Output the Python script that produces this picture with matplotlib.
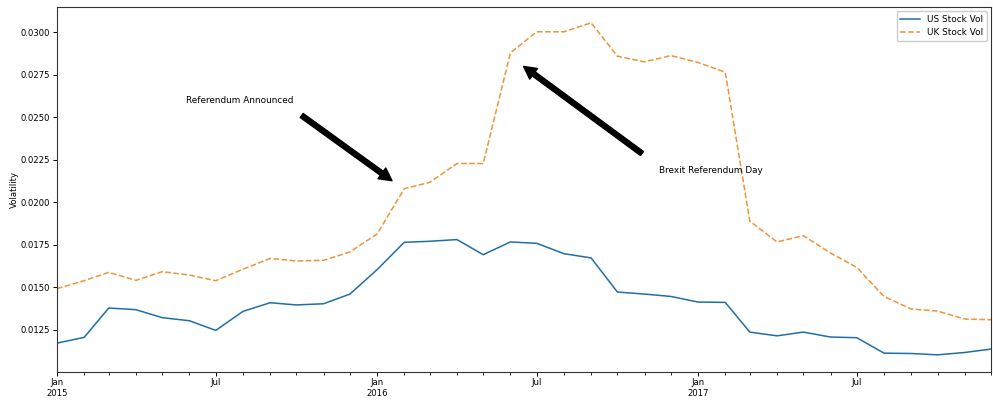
import matplotlib
matplotlib.use("Agg")
import matplotlib.pyplot as plt
import matplotlib.dates as mdates
import pandas as pd

# Monthly stock volatility, Jan 2015 - Dec 2017
months = pd.date_range("2015-01-01", "2017-12-01", freq="MS")

us_vol = [0.01170, 0.01204, 0.01377, 0.01367, 0.01320, 0.01302,
          0.01245, 0.01357, 0.01408, 0.01395, 0.01402, 0.01459,
          0.01603, 0.01764, 0.01770, 0.01780, 0.01691, 0.01766,
          0.01758, 0.01697, 0.01672, 0.01471, 0.01459, 0.01445,
          0.01412, 0.01410, 0.01235, 0.01213, 0.01235, 0.01206,
          0.01202, 0.01111, 0.01109, 0.01101, 0.01115, 0.01135]

uk_vol = [0.01491, 0.01538, 0.01587, 0.01540, 0.01591, 0.01571,
          0.01538, 0.01605, 0.01669, 0.01654, 0.01658, 0.01707,
          0.01813, 0.02080, 0.02117, 0.02228, 0.02228, 0.02880,
          0.03004, 0.03004, 0.03057, 0.02860, 0.02827, 0.02864,
          0.02823, 0.02766, 0.01888, 0.01766, 0.01803, 0.01701,
          0.01616, 0.01445, 0.01371, 0.01359, 0.01312, 0.01308]

series_labels = ["US Stock Vol", "UK Stock Vol"]

fs = 6.4
tick_fs = 6.1
plt.rcParams["font.family"] = ["DejaVu Sans"]
plt.rcParams["font.size"] = fs

fig = plt.figure(figsize=(9.93, 4.05), dpi=100)
ax = fig.add_axes([57 / 993, 1 - 372 / 405, (991 - 57) / 993, (372 - 7) / 405])

ax.plot(months, us_vol, color="#1f6fa8", lw=1.1, label=series_labels[0])
ax.plot(months, uk_vol, color="#f0923a", lw=1.1, ls="--", label=series_labels[1])

ax.set_xlim(months[0], months[-1])
ax.set_ylim(0.0100, 0.0315)
ax.set_yticks([0.0125, 0.0150, 0.0175, 0.0200, 0.0225, 0.0250, 0.0275, 0.0300])
ax.yaxis.set_major_formatter(matplotlib.ticker.FormatStrFormatter("%.4f"))
ax.set_ylabel("Volatility", fontsize=fs - 0.3)
ax.yaxis.set_label_coords(-0.041, 0.5)


def fmt_date(x, pos=None):
    d = mdates.num2date(x)
    if d.month == 1:
        return f"Jan\n{d.year}"
    return d.strftime("%b")


ax.xaxis.set_major_locator(mdates.MonthLocator(bymonth=[1, 7]))
ax.xaxis.set_major_formatter(matplotlib.ticker.FuncFormatter(fmt_date))
ax.xaxis.set_minor_locator(mdates.MonthLocator())
ax.tick_params(axis="both", which="major", length=3, width=0.7, pad=2, labelsize=tick_fs)
ax.tick_params(axis="x", which="major", pad=1.5)
ax.tick_params(axis="x", which="minor", length=2, width=0.6)
for lbl in ax.get_xticklabels():
    lbl.set_ha("center")
    lbl.set_rotation(0)

for sp in ax.spines.values():
    sp.set_linewidth(0.8)
    sp.set_color("#333333")

# Event annotations
ax.text(pd.Timestamp("2015-07-28"), 0.02599, "Referendum Announced",
        ha="center", va="center", fontsize=fs)
ax.annotate("", xy=(pd.Timestamp("2016-01-18"), 0.02127),
            xytext=(pd.Timestamp("2015-10-07"), 0.02511),
            arrowprops=dict(facecolor="black", edgecolor="black",
                            width=3.6, headwidth=9.5, headlength=9, shrink=0))

ax.text(pd.Timestamp("2016-11-17"), 0.02186, "Brexit Referendum Day",
        ha="left", va="center", fontsize=fs)
ax.annotate("", xy=(pd.Timestamp("2016-06-16"), 0.02800),
            xytext=(pd.Timestamp("2016-10-29"), 0.02287),
            arrowprops=dict(facecolor="black", edgecolor="black",
                            width=3.6, headwidth=9.5, headlength=9, shrink=0))

ax.legend(loc="upper right", fontsize=fs, handlelength=2.2,
          borderaxespad=0.5, framealpha=1.0)

fig.savefig("out.png", dpi=100)
